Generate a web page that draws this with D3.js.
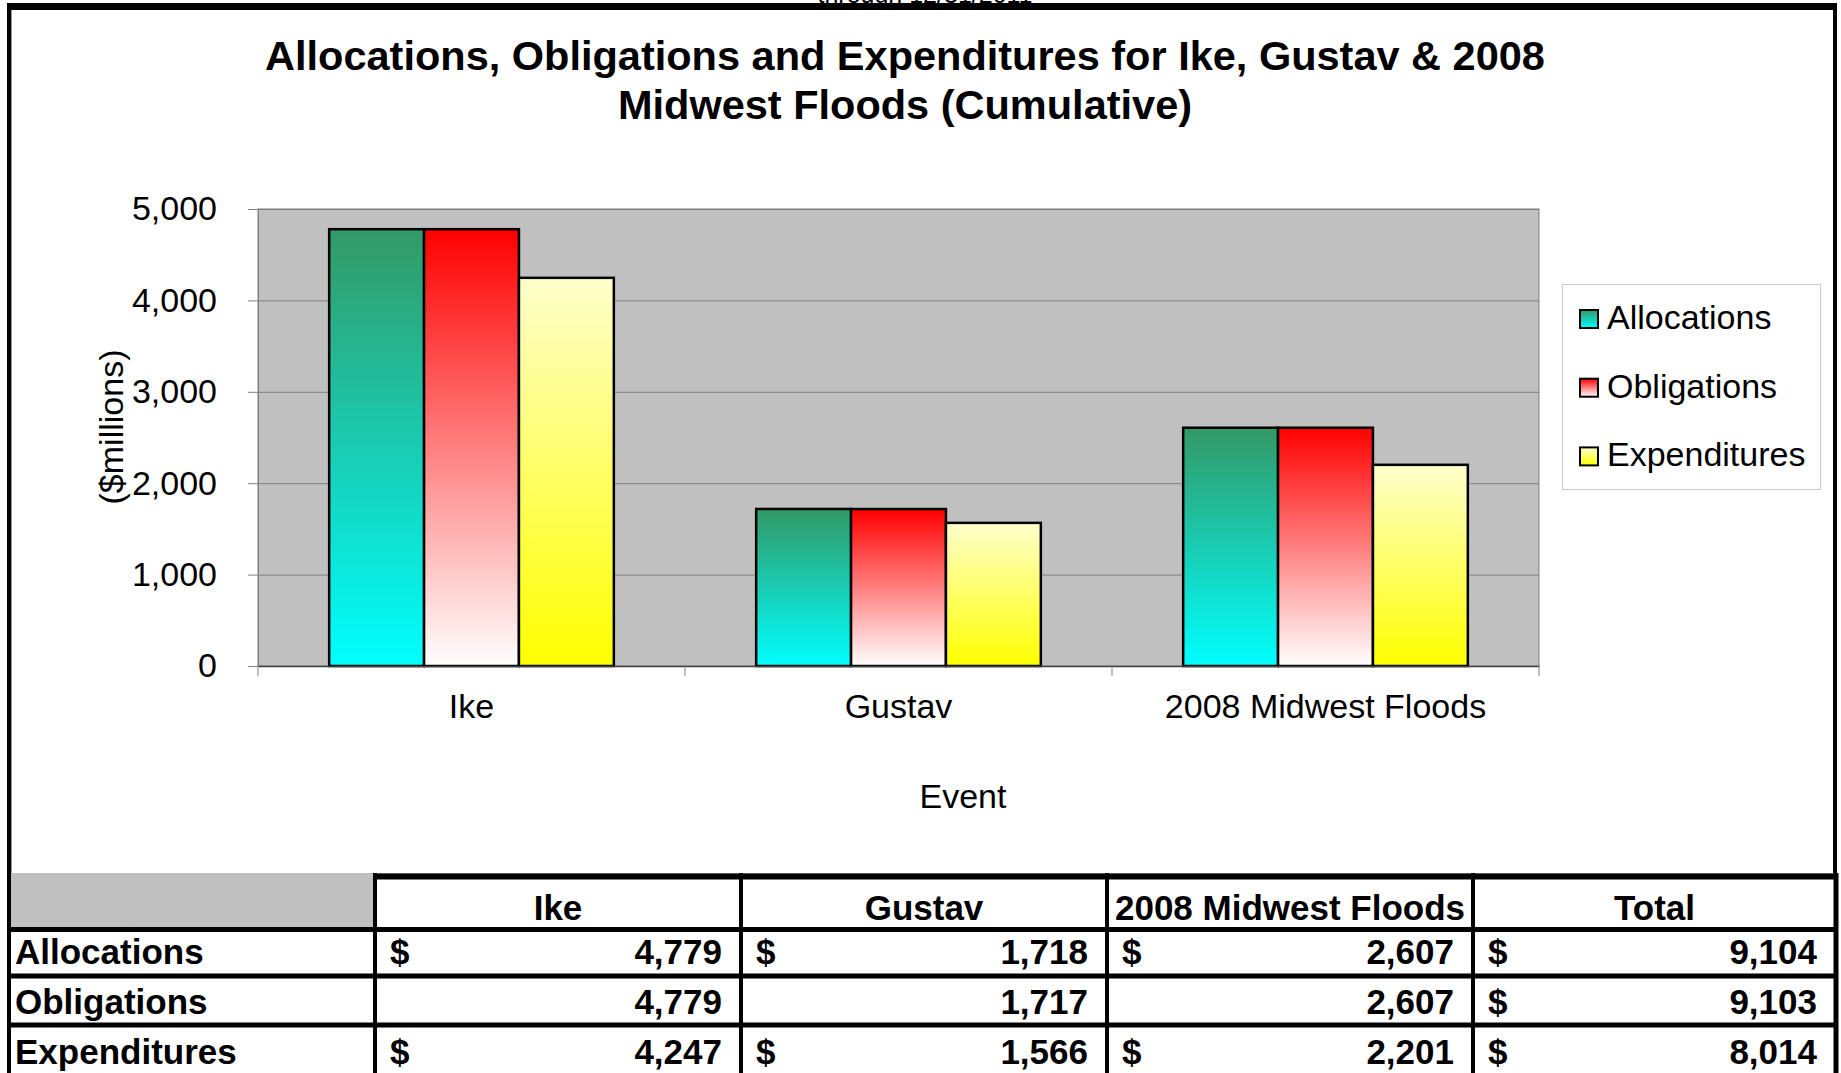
<!DOCTYPE html>
<html>
<head>
<meta charset="utf-8">
<script src="https://cdn.jsdelivr.net/npm/d3@7"></script>
<style>
    body { margin: 0; background: #fff; }
    svg { display: block; font-family: "Liberation Sans", Arial, sans-serif; }
</style>
</head>
<body>
<svg id="chart" width="1841" height="1073"></svg>
<script>
// chart values
const events = ['Ike', 'Gustav', '2008 Midwest Floods'];
const seriesNames = ['Allocations', 'Obligations', 'Expenditures'];
const allocations = [4779, 1718, 2607];
const obligations = [4779, 1717, 2607];
const expenditures = [4247, 1566, 2201];
const totals = [9104, 9103, 8014];
const yTicks = [0, 1000, 2000, 3000, 4000, 5000];
const tableHeaders = ['Ike', 'Gustav', '2008 Midwest Floods', 'Total'];
// which table cells carry a "$"
const dollarCells = [
    [true, true, true, true],
    [false, false, false, true],
    [true, true, true, true]
];

const svg = d3.select('#chart');
const plot = {left: 258, right: 1539, top: 209, bottom: 666};

// gradients, one per series (each bar gets the full ramp)
const ramps = [
    ['#339966', '#00ffff'],
    ['#ff0000', '#ffffff'],
    ['#ffffcc', '#ffff00']
];
const defs = svg.append('defs');
ramps.forEach((r, i) => {
    const g = defs.append('linearGradient')
        .attr('id', 'grad' + i)
        .attr('x1', 0).attr('y1', 0).attr('x2', 0).attr('y2', 1);
    g.append('stop').attr('offset', '0%').attr('stop-color', r[0]);
    g.append('stop').attr('offset', '100%').attr('stop-color', r[1]);
});

// cut off sheet text above the frame
svg.append('text')
    .attr('x', 925).attr('y', 3)
    .attr('text-anchor', 'middle')
    .attr('font-size', 25)
    .text('through 12/31/2011');

// chart frame
svg.append('rect').attr('x', 7).attr('y', 3).attr('width', 1830).attr('height', 7).attr('fill', '#000');
svg.append('rect').attr('x', 1833).attr('y', 3).attr('width', 4).attr('height', 870).attr('fill', '#000');
svg.append('line').attr('x1', 11.5).attr('x2', 11.5).attr('y1', 10).attr('y2', 873).attr('stroke', '#999');
svg.append('line').attr('x1', 11).attr('x2', 1833).attr('y1', 873.5).attr('y2', 873.5).attr('stroke', '#bbb');

// title
svg.append('text')
    .attr('x', 905).attr('y', 70)
    .attr('text-anchor', 'middle')
    .attr('font-size', 41.5).attr('font-weight', 'bold')
    .selectAll('tspan')
    .data(['Allocations, Obligations and Expenditures for Ike, Gustav & 2008', 'Midwest Floods (Cumulative)'])
    .enter().append('tspan')
    .attr('x', 905)
    .attr('dy', (d, i) => i ? 49 : 0)
    .text(d => d);

// scales
const y = d3.scaleLinear().domain([0, 5000]).range([plot.bottom, plot.top]);
const x0 = d3.scaleBand().domain(events).range([plot.left, plot.right])
    .paddingInner(1 / 3).paddingOuter(1 / 6);
const x1 = d3.scaleBand().domain(seriesNames).range([0, x0.bandwidth()]);

// plot area
svg.append('rect')
    .attr('x', plot.left).attr('y', plot.top)
    .attr('width', plot.right - plot.left).attr('height', plot.bottom - plot.top)
    .attr('fill', '#c0c0c0').attr('stroke', '#808080').attr('stroke-width', 1);

// gridlines
svg.append('g')
    .attr('transform', `translate(${plot.left},0)`)
    .call(d3.axisLeft(y).tickValues(yTicks.slice(1)).tickSize(-(plot.right - plot.left)).tickFormat(''))
    .call(g => g.select('.domain').remove())
    .selectAll('line').attr('stroke', '#808080');

// y axis
const yAxis = svg.append('g')
    .attr('transform', `translate(${plot.left},0)`)
    .call(d3.axisLeft(y).tickValues(yTicks).tickSize(10).tickPadding(31).tickFormat(d3.format(',')));
yAxis.select('.domain').attr('stroke', '#808080');
yAxis.selectAll('line').attr('stroke', '#808080');
yAxis.selectAll('text').attr('font-size', 34).attr('fill', '#000')
    .attr('font-family', '"Liberation Sans", Arial, sans-serif');

svg.append('text')
    .attr('transform', 'translate(123,427) rotate(-90)')
    .attr('text-anchor', 'middle')
    .attr('font-size', 34)
    .text('($millions)');

// bars
const seriesValues = [allocations, obligations, expenditures];
const groups = svg.append('g').selectAll('g')
    .data(events)
    .enter().append('g')
    .attr('transform', d => `translate(${x0(d)},0)`);

groups.selectAll('rect')
    .data((d, i) => seriesNames.map((s, j) => ({series: s, idx: j, value: seriesValues[j][i]})))
    .enter().append('rect')
    .attr('x', d => x1(d.series))
    .attr('y', d => y(d.value))
    .attr('width', x1.bandwidth())
    .attr('height', d => y(0) - y(d.value))
    .attr('fill', d => `url(#grad${d.idx})`)
    .attr('stroke', '#000')
    .attr('stroke-width', 2.5);

// x axis
const xAxis = svg.append('g')
    .attr('transform', `translate(0,${plot.bottom})`)
    .call(d3.axisBottom(x0).tickSize(0));
xAxis.select('.domain').attr('stroke', '#404040').attr('stroke-width', 1.5);
xAxis.selectAll('text')
    .attr('y', 52).attr('dy', 0)
    .attr('font-size', 34).attr('fill', '#000')
    .attr('font-family', '"Liberation Sans", Arial, sans-serif');

// category boundary ticks
svg.append('g').selectAll('line')
    .data(d3.range(events.length + 1))
    .enter().append('line')
    .attr('x1', i => plot.left + i * x0.step())
    .attr('x2', i => plot.left + i * x0.step())
    .attr('y1', plot.bottom).attr('y2', plot.bottom + 10)
    .attr('stroke', '#808080');

svg.append('text')
    .attr('x', 963).attr('y', 808)
    .attr('text-anchor', 'middle')
    .attr('font-size', 34)
    .text('Event');

// legend
svg.append('rect')
    .attr('x', 1562.5).attr('y', 284.5).attr('width', 258).attr('height', 205)
    .attr('fill', '#fff').attr('stroke', '#c8c8c8');
const legend = svg.append('g').selectAll('g')
    .data(seriesNames)
    .enter().append('g')
    .attr('transform', (d, i) => `translate(1580,${310 + i * 68.7})`);
legend.append('rect')
    .attr('width', 18).attr('height', 18)
    .attr('fill', (d, i) => `url(#grad${i})`)
    .attr('stroke', '#000').attr('stroke-width', 2);
legend.append('text')
    .attr('x', 27).attr('y', 19)
    .attr('font-size', 34)
    .text(d => d);

// table under the chart
const colEdges = [375, 741, 1107, 1473, 1836];
const rowBase = [964, 1014, 1064];
const fmt = d3.format(',');
const table = svg.append('g').attr('font-size', 35).attr('font-weight', 'bold');

svg.append('rect').attr('x', 11).attr('y', 873).attr('width', 364).attr('height', 55).attr('fill', '#c0c0c0');

table.selectAll('.hdr')
    .data(tableHeaders)
    .enter().append('text')
    .attr('x', (d, i) => (colEdges[i] + colEdges[i + 1]) / 2)
    .attr('y', 920)
    .attr('text-anchor', 'middle')
    .text(d => d);

const rows = seriesNames.map((name, r) => ({
    name: name,
    values: seriesValues[r].concat([totals[r]]),
    dollars: dollarCells[r]
}));

rows.forEach((row, r) => {
    table.append('text').attr('x', 15).attr('y', rowBase[r]).text(row.name);
    row.values.forEach((v, c) => {
        if (row.dollars[c])
            table.append('text').attr('x', colEdges[c] + 15).attr('y', rowBase[r]).text('$');
        table.append('text')
            .attr('x', colEdges[c + 1] - 19).attr('y', rowBase[r])
            .attr('text-anchor', 'end')
            .text(fmt(v));
    });
});

// grid lines of the table
const hLines = [{y: 876.5, x1: 373, w: 6}, {y: 929.5, x1: 7, w: 5}, {y: 976, x1: 7, w: 5}, {y: 1025, x1: 7, w: 5}];
svg.append('g').selectAll('line')
    .data(hLines)
    .enter().append('line')
    .attr('x1', d => d.x1).attr('x2', 1838)
    .attr('y1', d => d.y).attr('y2', d => d.y)
    .attr('stroke', '#000').attr('stroke-width', d => d.w);
svg.append('g').selectAll('line')
    .data(colEdges)
    .enter().append('line')
    .attr('x1', d => d).attr('x2', d => d)
    .attr('y1', 873).attr('y2', 1073)
    .attr('stroke', '#000').attr('stroke-width', (d, i) => i === colEdges.length - 1 ? 5 : 4);

// left frame edge runs down through the table
svg.append('rect').attr('x', 7).attr('y', 3).attr('width', 4).attr('height', 1070).attr('fill', '#000');
</script>
</body>
</html>
